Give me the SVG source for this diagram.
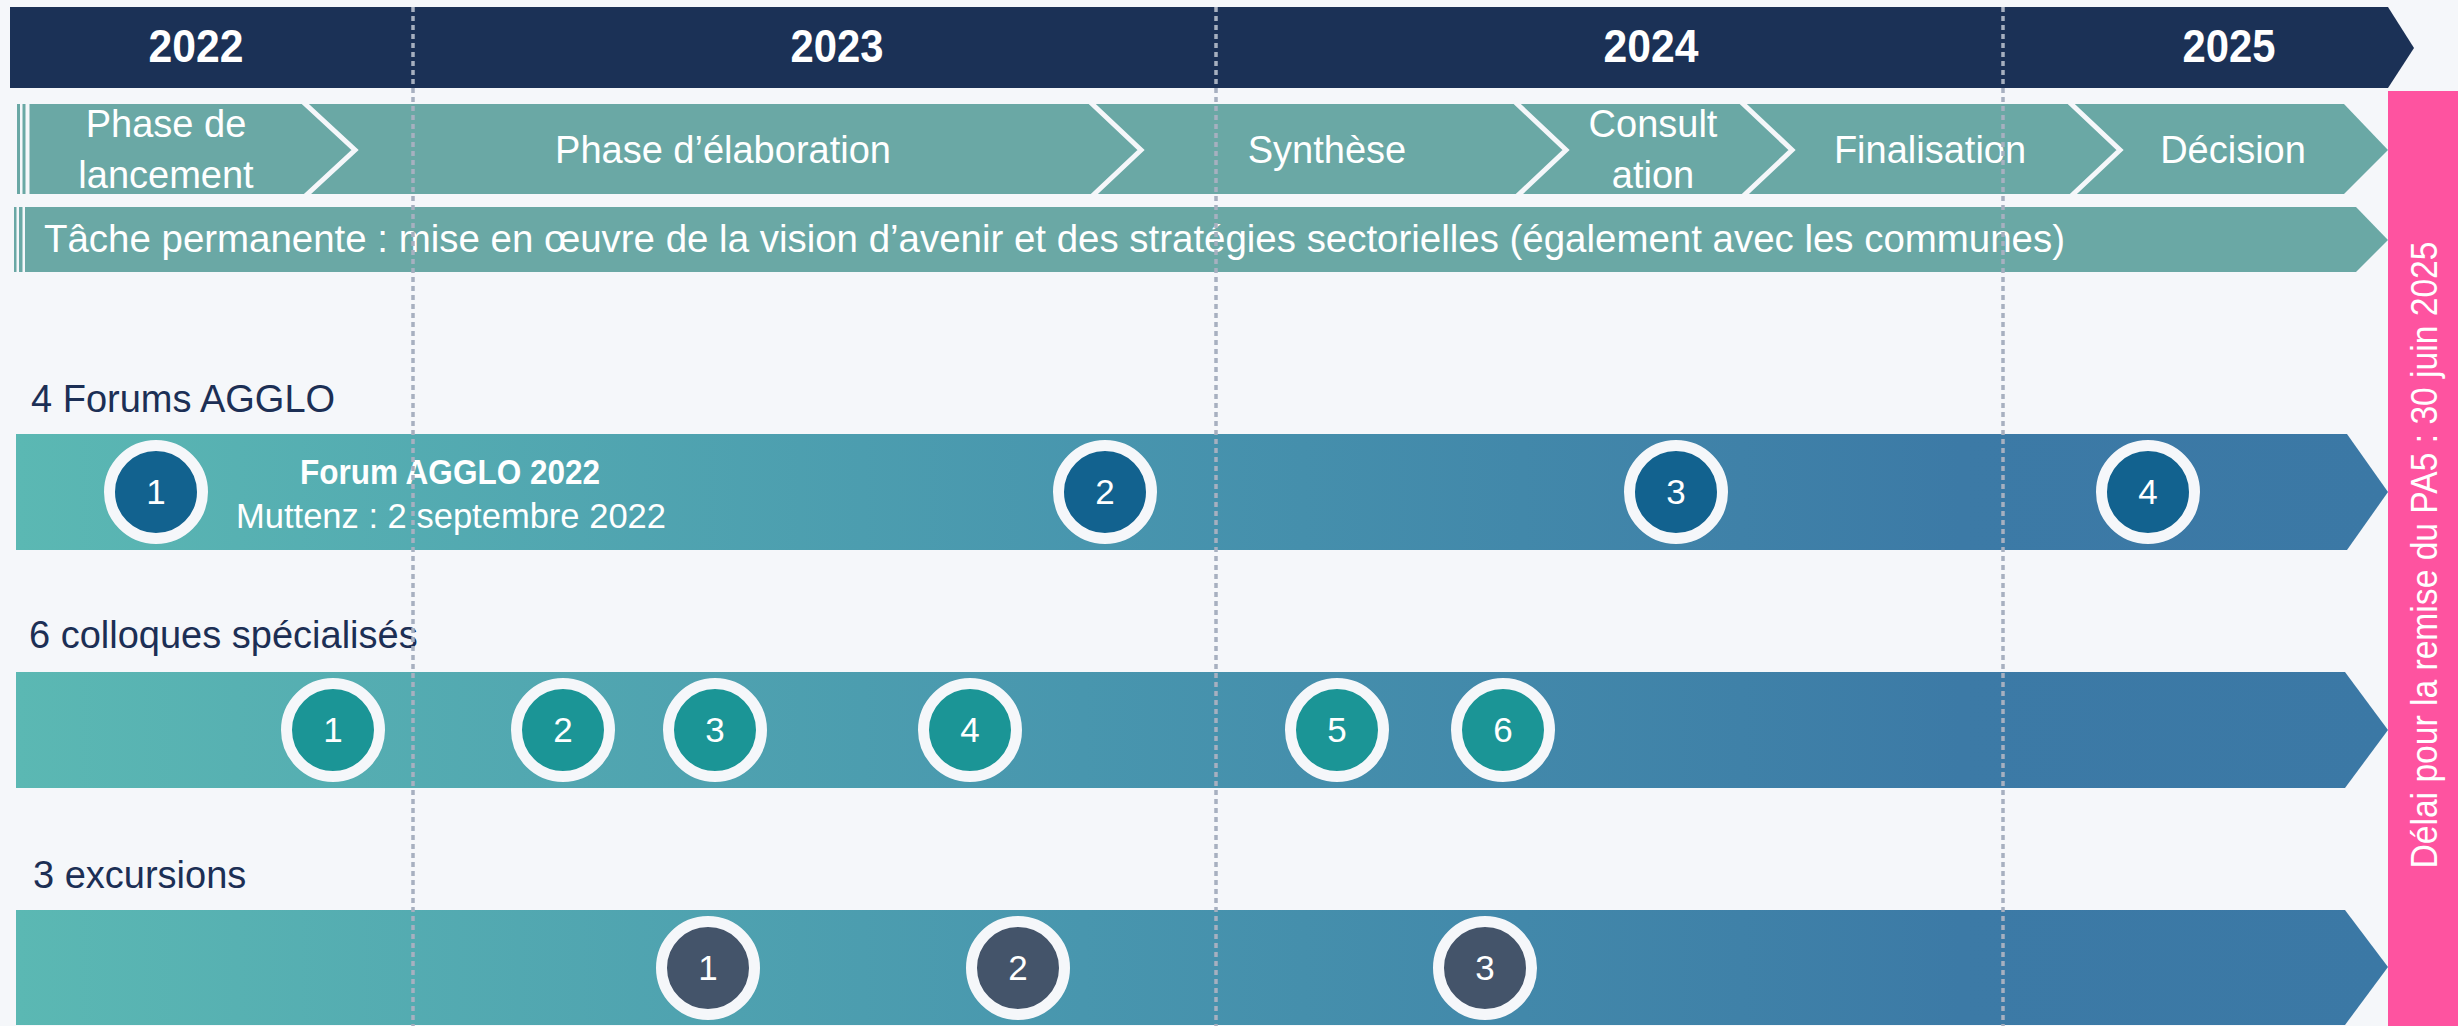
<svg xmlns="http://www.w3.org/2000/svg" width="2458" height="1026" viewBox="0 0 2458 1026">
<defs>
<linearGradient id="track" gradientUnits="userSpaceOnUse" x1="16" y1="0" x2="2388" y2="0">
<stop offset="0" stop-color="#5bb8b3"/>
<stop offset="0.45" stop-color="#4896ae"/>
<stop offset="0.82" stop-color="#3c7aa6"/>
<stop offset="1" stop-color="#3b78a5"/>
</linearGradient>
<style>
text{font-family:"Liberation Sans",Arial,sans-serif;}
.yr{font-size:47px;font-weight:bold;fill:#ffffff;text-anchor:middle;}
.ph{font-size:38px;fill:#ffffff;text-anchor:middle;}
.lbl{font-size:38px;fill:#1c2f55;}
.num{font-size:35px;fill:#ffffff;text-anchor:middle;}
.ring{stroke:#f5f7fa;stroke-width:11;}
.forum{fill:#12628f;}
.coll{fill:#1b9596;}
.exc{fill:#44546a;}
.sep{fill:none;stroke:#f5f7fa;stroke-width:5;}
.phase{fill:#6aa8a5;}
.grid{stroke:#a7b0c0;stroke-width:3.5;stroke-dasharray:5 4;}
.strip{fill:#f5f7fa;}
</style>
</defs>
<rect x="0" y="0" width="2458" height="1026" fill="#f5f7fa"/>

<g id="year-bar">
<polygon points="10,7 2388,7 2414,48 2388,88 10,88" fill="#1b3156"/>
<text class="yr" x="196" y="62" textLength="95" lengthAdjust="spacingAndGlyphs">2022</text>
<text class="yr" x="837" y="62" textLength="93" lengthAdjust="spacingAndGlyphs">2023</text>
<text class="yr" x="1651" y="62" textLength="95" lengthAdjust="spacingAndGlyphs">2024</text>
<text class="yr" x="2229" y="62" textLength="93" lengthAdjust="spacingAndGlyphs">2025</text>
</g>

<g id="phases">
<polygon class="phase" points="17,104 2344,104 2388,150 2344,194 17,194"/>
<rect class="strip" x="20" y="104" width="2.5" height="90"/>
<rect class="strip" x="25.5" y="104" width="4" height="90"/>
<polyline class="sep" points="301,100 355,150 301,200"/>
<polyline class="sep" points="1088,100 1141,150 1088,200"/>
<polyline class="sep" points="1513,100 1566,150 1513,200"/>
<polyline class="sep" points="1739,100 1792,150 1739,200"/>
<polyline class="sep" points="2067,100 2120,150 2067,200"/>
<text class="ph" x="166" y="137">Phase de</text>
<text class="ph" x="166" y="188">lancement</text>
<text class="ph" x="723" y="163">Phase d’élaboration</text>
<text class="ph" x="1327" y="163">Synthèse</text>
<text class="ph" x="1653" y="137">Consult</text>
<text class="ph" x="1653" y="188">ation</text>
<text class="ph" x="1930" y="163">Finalisation</text>
<text class="ph" x="2233" y="163">Décision</text>
</g>

<g id="permanent-task">
<polygon class="phase" points="14,207 2356,207 2388,240 2356,272 14,272"/>
<rect class="strip" x="16.5" y="207" width="2.5" height="65"/>
<rect class="strip" x="22.5" y="207" width="2.5" height="65"/>
<text x="44" y="252" font-size="38" fill="#ffffff" textLength="2021" lengthAdjust="spacingAndGlyphs">Tâche permanente : mise en œuvre de la vision d’avenir et des stratégies sectorielles (également avec les communes)</text>
</g>

<g id="deadline">
<rect x="2388" y="91" width="70" height="935" fill="#fe53a0"/>
<text transform="translate(2437,555) rotate(-90)" font-size="37" fill="#ffffff" text-anchor="middle" textLength="627" lengthAdjust="spacingAndGlyphs">Délai pour la remise du PA5 : 30 juin 2025</text>
</g>

<g id="forums">
<text class="lbl" x="31" y="412">4 Forums AGGLO</text>
<polygon points="16,434 2347,434 2388,492 2347,550 16,550" fill="url(#track)"/>
<g id="forum-1"><circle class="forum ring" cx="156" cy="492" r="46.5"/><text class="num" x="156" y="504">1</text></g>
<text x="450" y="484" font-size="35" font-weight="bold" fill="#ffffff" text-anchor="middle" textLength="300" lengthAdjust="spacingAndGlyphs">Forum AGGLO 2022</text>
<text x="451" y="528" font-size="35" fill="#ffffff" text-anchor="middle" textLength="430" lengthAdjust="spacingAndGlyphs">Muttenz : 2 septembre 2022</text>
<g id="forum-2"><circle class="forum ring" cx="1105" cy="492" r="46.5"/><text class="num" x="1105" y="504">2</text></g>
<g id="forum-3"><circle class="forum ring" cx="1676" cy="492" r="46.5"/><text class="num" x="1676" y="504">3</text></g>
<g id="forum-4"><circle class="forum ring" cx="2148" cy="492" r="46.5"/><text class="num" x="2148" y="504">4</text></g>
</g>

<g id="colloques">
<text class="lbl" x="29" y="648">6 colloques spécialisés</text>
<polygon points="16,672 2345,672 2388,730 2345,788 16,788" fill="url(#track)"/>
<g id="colloque-1"><circle class="coll ring" cx="333" cy="730" r="46.5"/><text class="num" x="333" y="742">1</text></g>
<g id="colloque-2"><circle class="coll ring" cx="563" cy="730" r="46.5"/><text class="num" x="563" y="742">2</text></g>
<g id="colloque-3"><circle class="coll ring" cx="715" cy="730" r="46.5"/><text class="num" x="715" y="742">3</text></g>
<g id="colloque-4"><circle class="coll ring" cx="970" cy="730" r="46.5"/><text class="num" x="970" y="742">4</text></g>
<g id="colloque-5"><circle class="coll ring" cx="1337" cy="730" r="46.5"/><text class="num" x="1337" y="742">5</text></g>
<g id="colloque-6"><circle class="coll ring" cx="1503" cy="730" r="46.5"/><text class="num" x="1503" y="742">6</text></g>
</g>

<g id="excursions">
<text class="lbl" x="33" y="888">3 excursions</text>
<polygon points="16,910 2345,910 2388,967 2345,1025 16,1025" fill="url(#track)"/>
<g id="excursion-1"><circle class="exc ring" cx="708" cy="968" r="46.5"/><text class="num" x="708" y="980">1</text></g>
<g id="excursion-2"><circle class="exc ring" cx="1018" cy="968" r="46.5"/><text class="num" x="1018" y="980">2</text></g>
<g id="excursion-3"><circle class="exc ring" cx="1485" cy="968" r="46.5"/><text class="num" x="1485" y="980">3</text></g>
</g>

<g id="gridlines">
<line class="grid" x1="413" y1="7" x2="413" y2="1026"/>
<line class="grid" x1="1216" y1="7" x2="1216" y2="1026"/>
<line class="grid" x1="2003" y1="7" x2="2003" y2="1026"/>
</g>
</svg>
